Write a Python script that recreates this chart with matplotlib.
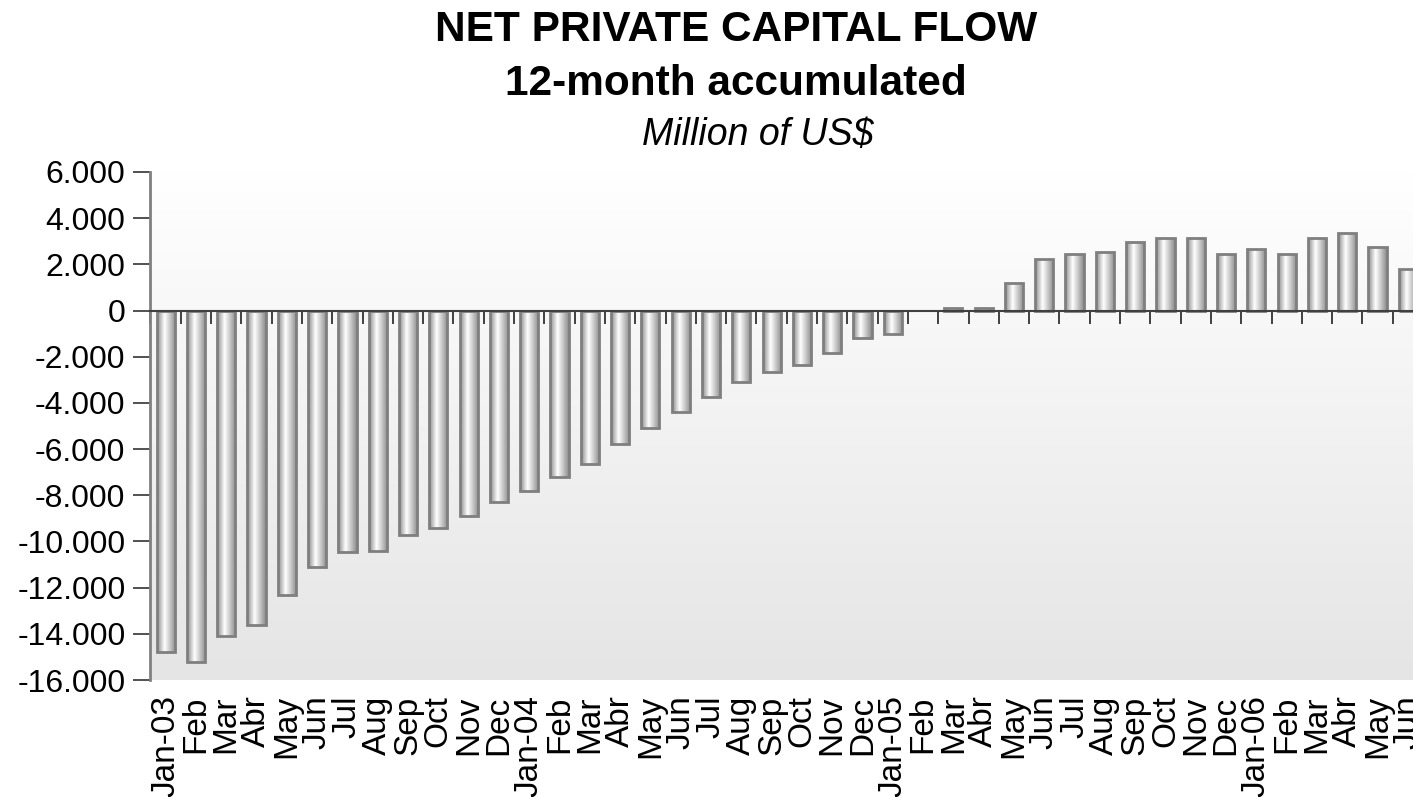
import numpy as np
import matplotlib
matplotlib.use("Agg")
import matplotlib.pyplot as plt
from matplotlib.colors import LinearSegmentedColormap
from matplotlib.ticker import FuncFormatter, MultipleLocator

plt.rcParams["font.family"] = ["Liberation Sans", "DejaVu Sans"]

# Monthly labels, Jan-03 .. Jun-06
months = ["Jan-03", "Feb", "Mar", "Abr", "May", "Jun", "Jul", "Aug", "Sep", "Oct", "Nov", "Dec",
          "Jan-04", "Feb", "Mar", "Abr", "May", "Jun", "Jul", "Aug", "Sep", "Oct", "Nov", "Dec",
          "Jan-05", "Feb", "Mar", "Abr", "May", "Jun", "Jul", "Aug", "Sep", "Oct", "Nov", "Dec",
          "Jan-06", "Feb", "Mar", "Abr", "May", "Jun"]

# Net private capital flow, 12-month accumulated (US$ million)
flow = [-14800, -15200, -14100, -13600, -12300, -11100, -10450, -10400, -9700, -9400, -8900, -8300,
        -7800, -7200, -6650, -5800, -5100, -4400, -3750, -3100, -2650, -2350, -1850, -1200,
        -1000, 0, 120, 120, 1200, 2250, 2450, 2550, 2950, 3150, 3150, 2450,
        2650, 2450, 3150, 3350, 2750, 1800]

y_ticks = np.arange(-16000, 6001, 2000)

fig = plt.figure(figsize=(14.13, 7.97), dpi=100)
ax = fig.add_axes([0.1065, 0.1468, 0.8935, 0.6374])

x = np.arange(len(months))
xlim = (-0.5, 41.17)
ylim = (-16000, 6000)

# plot-area background: white fading into light grey
bg = np.linspace(0, 1, 256).reshape(-1, 1)
bg_cmap = LinearSegmentedColormap.from_list("bg", ["#e5e5e5", "#ffffff"])
ax.imshow(bg, extent=[0, 1, 0, 1], transform=ax.transAxes, origin="lower",
          cmap=bg_cmap, aspect="auto", zorder=0)

# cylinder-like shading for the bars
bar_cmap = LinearSegmentedColormap.from_list(
    "bar", [(0.0, "#8c8c8c"), (0.4, "#ffffff"), (1.0, "#8c8c8c")])
shade = np.linspace(0, 1, 64).reshape(1, -1)

bars = ax.bar(x, flow, width=0.6, facecolor="none", edgecolor="#7f7f7f",
              linewidth=2, zorder=3)
for rect in bars:
    x0, y0 = rect.get_x(), rect.get_y()
    w, h = rect.get_width(), rect.get_height()
    if h == 0:
        rect.set_edgecolor("none")
        continue
    im = ax.imshow(shade, extent=[x0, x0 + w, min(y0, y0 + h), max(y0, y0 + h)],
                   cmap=bar_cmap, aspect="auto", zorder=2)
    im.set_clip_path(rect)

ax.set_xlim(*xlim)
ax.set_ylim(*ylim)

# y axis
ax.set_yticks(y_ticks)
ax.yaxis.set_major_formatter(FuncFormatter(lambda v, p: f"{int(v):,}".replace(",", ".")))
ax.tick_params(axis="y", direction="out", length=12, width=1.2, color="#333333",
               labelsize=23, pad=6)
ax.spines["left"].set_color("#808080")
ax.spines["left"].set_linewidth(2)
ax.spines["top"].set_visible(False)
ax.spines["right"].set_visible(False)

# category axis crossing at zero, with ticks between the months
ax.spines["bottom"].set_position(("data", 0))
ax.spines["bottom"].set_color("#404040")
ax.spines["bottom"].set_linewidth(1.5)
ax.spines["bottom"].set_zorder(4)
ax.xaxis.set_major_locator(MultipleLocator(1, offset=0.5))
ax.tick_params(axis="x", direction="out", length=9, width=1.2, color="#222222",
               labelbottom=False)

# month labels along the bottom of the plot area
sec = ax.secondary_xaxis("bottom")
sec.set_xticks(x)
sec.set_xticklabels(months, rotation=90, fontsize=24)
sec.tick_params(length=0, pad=11)
sec.spines["bottom"].set_visible(False)

fig.text(0.521, 0.962, "NET PRIVATE CAPITAL FLOW", ha="center", va="center",
         fontsize=30.5, fontweight="bold")
fig.text(0.521, 0.894, "12-month accumulated", ha="center", va="center",
         fontsize=30.5, fontweight="bold")
fig.text(0.536, 0.831, "Million of US$", ha="center", va="center",
         fontsize=27, fontstyle="italic")

fig.savefig("out.png", dpi=100)
